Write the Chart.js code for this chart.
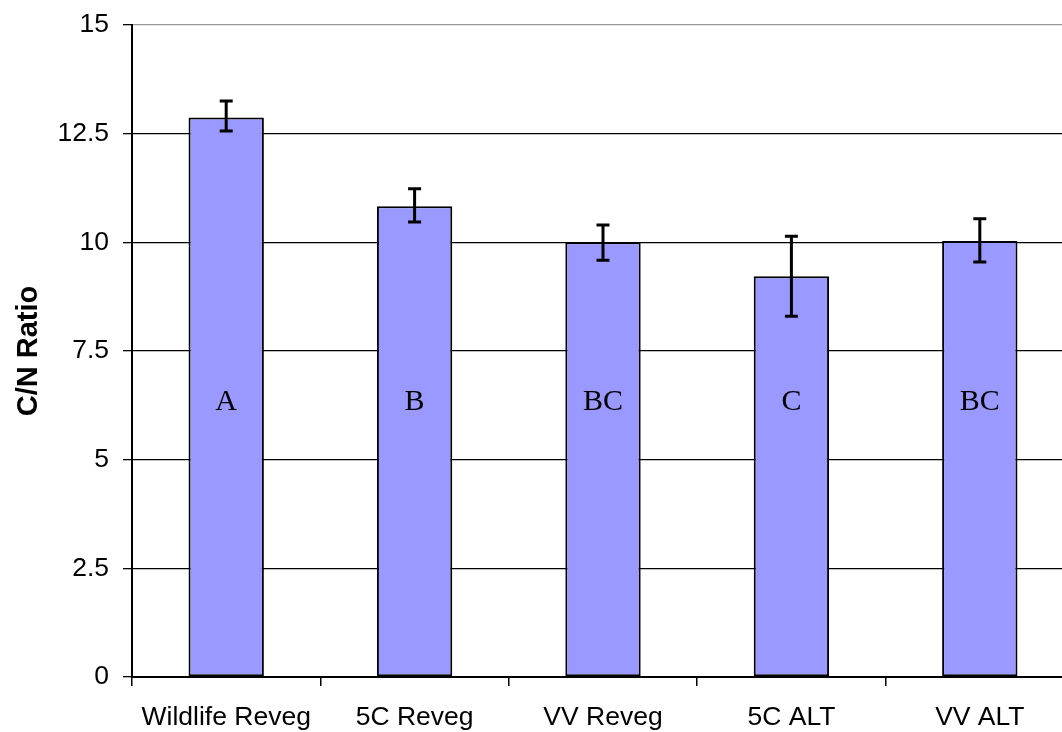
<!DOCTYPE html>
<html>
<head>
<meta charset="utf-8">
<script src="https://cdn.jsdelivr.net/npm/chart.js@4/dist/chart.umd.min.js"></script>
<style>
  html, body { margin: 0; padding: 0; background: #fff; overflow: hidden; }
  #wrap { position: relative; width: 1080px; height: 732px; }
</style>
</head>
<body>
<div id="wrap"><canvas id="myChart"></canvas></div>
<script>
const sites = ['Wildlife Reveg', '5C Reveg', 'VV Reveg', '5C ALT', 'VV ALT'];
const cnRatio = [12.87, 10.83, 10.0, 9.22, 10.03];
const errHigh = [13.25, 11.23, 10.40, 10.14, 10.54];
const errLow = [12.56, 10.47, 9.59, 8.30, 9.55];
const groupLetters = ['A', 'B', 'BC', 'C', 'BC'];
const yTicks = [0, 2.5, 5, 7.5, 10, 12.5, 15];

// error bars + significance letters, drawn through the scales
const extras = {
  id: 'extras',
  afterDatasetsDraw(chart) {
    const ctx = chart.ctx;
    const x = chart.scales.x;
    const y = chart.scales.y;
    ctx.save();
    ctx.strokeStyle = '#000';
    ctx.lineWidth = 3;
    sites.forEach((s, i) => {
      const cx = x.getPixelForValue(i);
      const top = y.getPixelForValue(errHigh[i]);
      const bot = y.getPixelForValue(errLow[i]);
      ctx.beginPath();
      ctx.moveTo(cx, top); ctx.lineTo(cx, bot);
      ctx.moveTo(cx - 6.5, top); ctx.lineTo(cx + 6.5, top);
      ctx.moveTo(cx - 6.5, bot); ctx.lineTo(cx + 6.5, bot);
      ctx.stroke();
    });
    ctx.fillStyle = '#000';
    ctx.font = '30px "Liberation Serif", "Times New Roman", serif';
    ctx.textAlign = 'center';
    ctx.textBaseline = 'middle';
    groupLetters.forEach((l, i) => {
      ctx.fillText(l, x.getPixelForValue(i), y.getPixelForValue(6.33));
    });
    ctx.restore();
  }
};

new Chart(document.getElementById('myChart'), {
  type: 'bar',
  data: {
    labels: sites,
    datasets: [{
      data: cnRatio,
      backgroundColor: '#9999ff',
      borderColor: '#000',
      borderWidth: 2,
      borderSkipped: false,
      categoryPercentage: 1,
      barPercentage: 0.4
    }]
  },
  options: {
    responsive: true,
    maintainAspectRatio: false,
    animation: false,
    layout: { padding: { top: 25, right: 6, left: 0, bottom: 0 } },
    plugins: { legend: { display: false }, tooltip: { enabled: false } },
    scales: {
      x: {
        offset: true,
        grid: {
          offset: true,
          drawOnChartArea: false,
          color: '#000',
          tickLength: 9,
          lineWidth: 1.5
        },
        border: { color: '#000', width: 2 },
        ticks: {
          color: '#000',
          font: { family: '"Liberation Sans", Arial, sans-serif', size: 26.5 },
          padding: 16,
          maxRotation: 0
        },
        afterFit(s) {
          s.height = 55;
          s.paddingLeft = 0;
          s.paddingRight = 0;
        }
      },
      y: {
        min: 0,
        max: 15,
        afterBuildTicks(s) { s.ticks = yTicks.map(v => ({ value: v })); },
        grid: {
          color: (c) => c.tick && c.tick.value === 15 ? '#999' : '#000',
          tickColor: '#000',
          tickLength: 9,
          lineWidth: 1.3
        },
        border: { color: '#000', width: 2 },
        ticks: {
          color: '#000',
          font: { family: '"Liberation Sans", Arial, sans-serif', size: 26.5 },
          padding: 14,
          callback: (v) => String(v)
        },
        title: {
          display: true,
          text: 'C/N Ratio',
          color: '#000',
          font: { family: '"Liberation Sans", Arial, sans-serif', size: 29, weight: 'bold' },
          padding: { top: 12, bottom: 0 }
        },
        afterFit(s) {
          s.width = 132;
          s.paddingTop = 0;
          s.paddingBottom = 0;
        }
      }
    }
  },
  plugins: [extras]
});
</script>
</body>
</html>
